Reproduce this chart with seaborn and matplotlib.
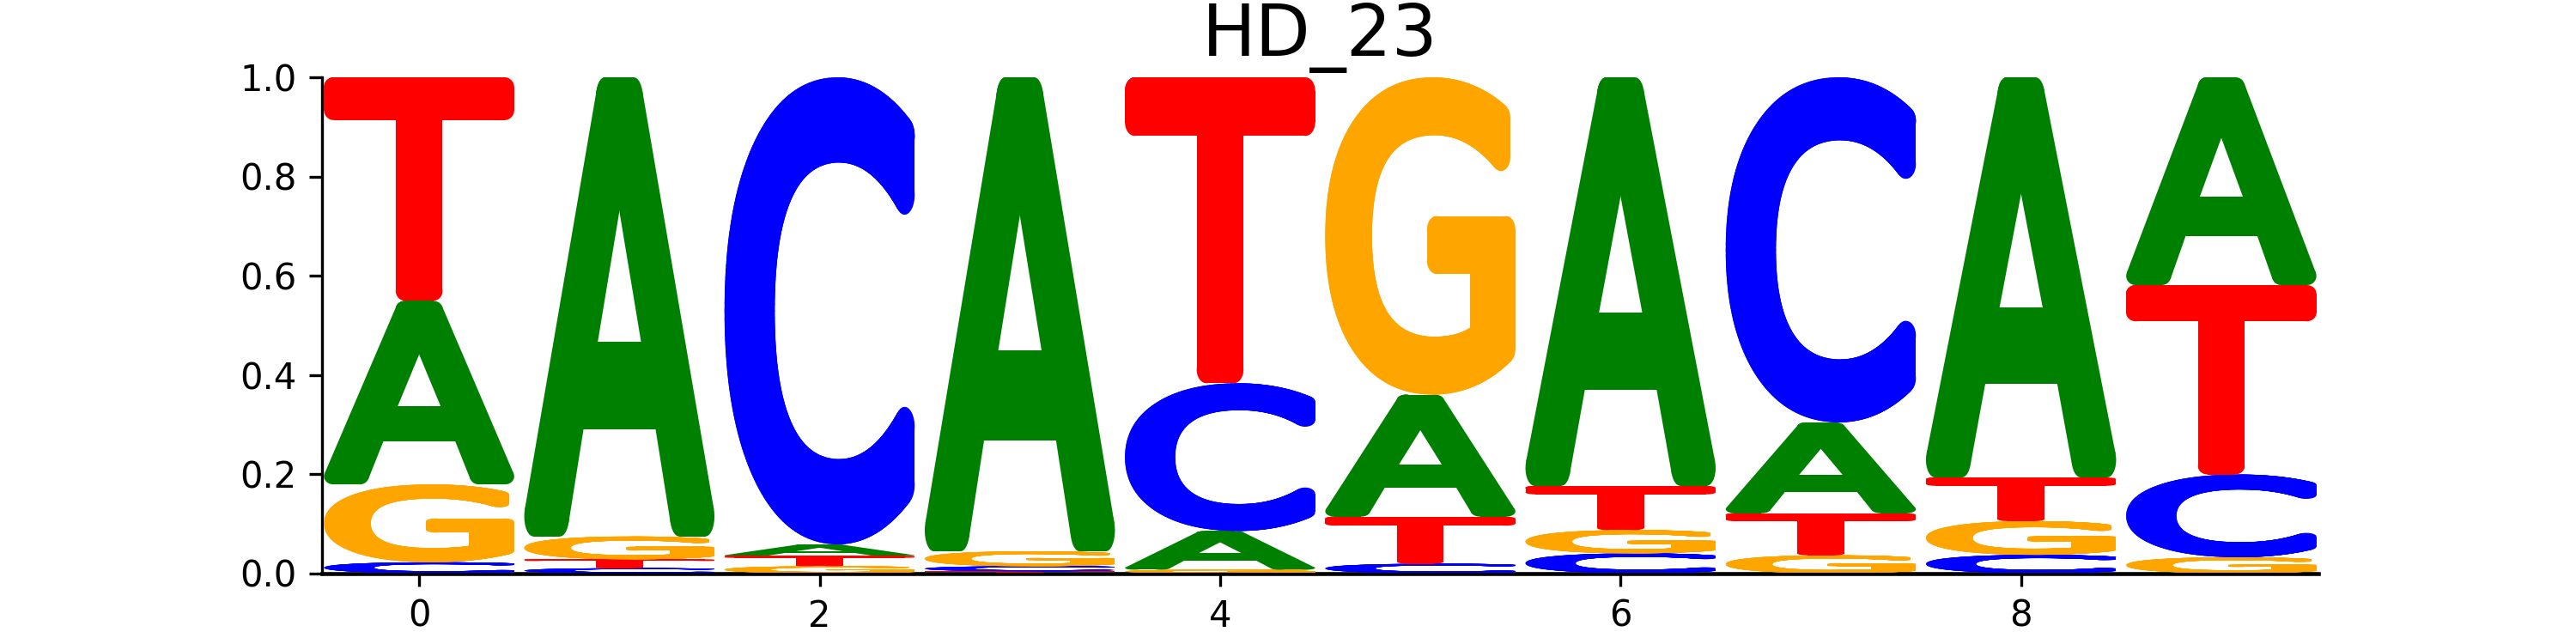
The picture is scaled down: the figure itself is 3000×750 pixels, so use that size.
import numpy as np
import pandas as pd
import matplotlib
matplotlib.use("Agg")
import matplotlib.pyplot as plt
import seaborn as sns
from matplotlib.textpath import TextPath
from matplotlib.font_manager import FontProperties
from matplotlib.patches import PathPatch
from matplotlib.collections import PolyCollection
from matplotlib.transforms import Affine2D
from matplotlib.path import Path

# ---- data (probabilities) ----
title = "HD_23"
positions = [0, 1, 2, 3, 4, 5, 6, 7, 8, 9]
letters = ["A", "C", "G", "T"]
prob_A = [0.370, 0.926, 0.023, 0.956, 0.078, 0.246, 0.824, 0.183, 0.807, 0.419]
prob_C = [0.022, 0.010, 0.942, 0.010, 0.298, 0.019, 0.040, 0.696, 0.037, 0.167]
prob_G = [0.157, 0.046, 0.014, 0.030, 0.007, 0.640, 0.047, 0.036, 0.068, 0.032]
prob_T = [0.451, 0.018, 0.021, 0.004, 0.617, 0.095, 0.089, 0.085, 0.088, 0.382]
letter_colors = {"A": "#008000", "C": "#0000ff", "G": "#ffa500", "T": "#ff0000"}
xticks = [0, 2, 4, 6, 8]
yticks = [0.0, 0.2, 0.4, 0.6, 0.8, 1.0]

df = pd.DataFrame({"A": prob_A, "C": prob_C, "G": prob_G, "T": prob_T}, index=positions)

sns.set_style("ticks", {"axes.edgecolor": "black", "text.color": "black",
                        "xtick.color": "black", "ytick.color": "black",
                        "axes.labelcolor": "black"})
plt.rcParams["font.family"] = ["DejaVu Sans"]

DPI = 300
fig, ax = plt.subplots(figsize=(10, 2.5), dpi=DPI)

glyph_width = 0.95

# regular face, rounded by dilation in glyph space (imitates a rounded bold font)
fp = FontProperties(family="DejaVu Sans", weight="normal")
R = 3.5

_theta = np.linspace(0, 2 * np.pi, 28, endpoint=False)
_circ = np.c_[np.cos(_theta), np.sin(_theta)] * R
_cache = {}


def flatten(path):
    polys, cur = [], []
    for seg, code in path.iter_bezier():
        if code == Path.MOVETO:
            if len(cur) > 2:
                polys.append(np.array(cur + [cur[0]]))
            cur = [np.asarray(seg.control_points[0])]
        else:
            n = 2 if seg.degree <= 1 else 24
            pts = seg(np.linspace(0, 1, n))[1:]
            cur.extend(list(pts))
    if len(cur) > 2:
        polys.append(np.array(cur + [cur[0]]))
    return polys


def glyph_parts(ch):
    if ch in _cache:
        return _cache[ch]
    tp = TextPath((0, 0), ch, size=100, prop=fp)
    polys = flatten(tp)
    allv = np.concatenate(polys)
    xmin, ymin = allv.min(axis=0)
    xmax, ymax = allv.max(axis=0)
    pieces = []
    for P in polys:
        for k in range(len(P) - 1):
            a, b = P[k], P[k + 1]
            d = b - a
            L = np.hypot(d[0], d[1])
            if L < 1e-9:
                continue
            nrm = np.array([-d[1], d[0]]) / L * R
            pieces.append(np.array([a + nrm, b + nrm, b - nrm, a - nrm]))
        for v in P[:-1]:
            pieces.append(_circ + v)
    res = (tp, pieces, (xmin - R, ymin - R, xmax + R, ymax + R))
    _cache[ch] = res
    return res


def draw_glyph(ch, xc, y0, h, color):
    tp, pieces, (gx0, gy0, gx1, gy1) = glyph_parts(ch)
    sx = glyph_width / (gx1 - gx0)
    sy = h / (gy1 - gy0)
    ox = xc - glyph_width / 2 - gx0 * sx
    oy = y0 - gy0 * sy
    tr = Affine2D().scale(sx, sy).translate(ox, oy)
    ax.add_patch(PathPatch(tr.transform_path(tp), facecolor=color,
                           edgecolor="none", linewidth=0, zorder=3))
    scl = np.array([sx, sy])
    off = np.array([ox, oy])
    polys = [p * scl + off for p in pieces]
    ax.add_collection(PolyCollection(polys, facecolors=color,
                                     edgecolors="none", linewidths=0,
                                     zorder=3))


for pos in df.index:
    row = df.loc[pos].sort_values(ascending=True)
    bottom = 0.0
    for ch, v in row.items():
        if v > 0:
            draw_glyph(ch, pos, bottom, v, letter_colors[ch])
        bottom += v

ax.axhline(0, color="black", linewidth=0.5, zorder=4)
ax.set_xlim(-0.485, 9.485)
ax.set_ylim(0, 1)
ax.set_xticks(xticks)
ax.set_yticks(yticks)
ax.set_yticklabels([f"{t:.1f}" for t in yticks])
ax.tick_params(labelsize=10)
sns.despine(ax=ax, top=True, right=True)
ax.spines["bottom"].set_linewidth(1.1)
ax.set_title(title, fontsize=20)

fig.savefig("out.png", dpi=DPI)
